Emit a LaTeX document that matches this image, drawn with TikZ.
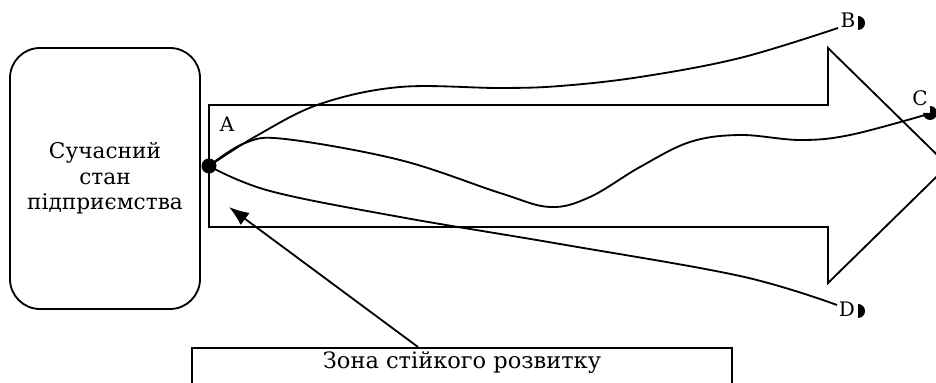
\documentclass[tikz,border=0pt]{standalone}
\usepackage{fontspec}
\setmainfont{DejaVu Serif}
\usetikzlibrary{arrows.meta,positioning}

\tikzset{
  statebox/.style={draw, rounded corners=18pt, minimum width=114pt, minimum height=156.6pt, align=center, font=\fontsize{13}{15.3}\selectfont},
  zonebox/.style={draw, anchor=north, minimum width=324pt, text height=9.5pt, text depth=30pt, inner ysep=3pt, font=\fontsize{13.5}{15}\selectfont},
  ptlabel/.style={inner sep=0pt, font=\fontsize{12}{14}\selectfont},
  trackline/.style={line width=1.1pt},
}

\begin{document}
\begin{tikzpicture}[x=0.6pt, y=-0.6pt, line width=1.1pt]
      \useasboundingbox (0,0) rectangle (936,383);

      % present state
      \node[statebox] (state) at (105,178.5) {Сучасний\\стан\\підприємства};

      % the big arrow
      \draw (209,105) -- (828,105) -- (828,48) -- (948,165.5) -- (828,283) -- (828,227) -- (209,227) -- cycle;

      \coordinate (A) at (209,166);
      \coordinate (B) at (838,28);
      \coordinate (C) at (925,115);
      \coordinate (D) at (837,305);

      % trajectories
      \draw[trackline] plot[smooth, tension=0.6] coordinates {(A) (258,135) (320,104) (400,87) (500,88) (560,86) (640,77) (740,58) (B)};
      \draw[trackline] plot[smooth, tension=0.6] coordinates {(A) (245,143) (285,139) (400,160) (500,193) (550,207) (590,197) (640,167) (690,142) (740,135) (800,140) (850,135) (C)};
      \draw[trackline] plot[smooth, tension=0.6] coordinates {(A) (270,191) (400,217) (560,244) (740,276) (D)};

      \fill (A) circle (7.5);
      \node[ptlabel] (labA) at (227,124) {A};
      \node[ptlabel] (labB) at (848,20) {B};
      \node[ptlabel] (labC) at (920,98) {C};
      \node[ptlabel] (labD) at (847,309) {D};

      % end marks
      \fill (858,23) ++(0,7) arc[start angle=90, end angle=-90, radius=7] -- cycle;
      \fill (858,311) ++(0,7) arc[start angle=90, end angle=-90, radius=7] -- cycle;
      \fill (930,113) -- ++(0,-7) arc[start angle=270, end angle=540, radius=7] -- cycle;

      % zone of sustainable development
      \node[zonebox] (zone) at (462,347) {Зона стійкого розвитку};
      \coordinate (zt) at (229,207);
      \draw[-{Latex[length=12pt, width=9pt]}] ([xshift=-26.4pt]zone.north) -- (zt);

\end{tikzpicture}
\end{document}
